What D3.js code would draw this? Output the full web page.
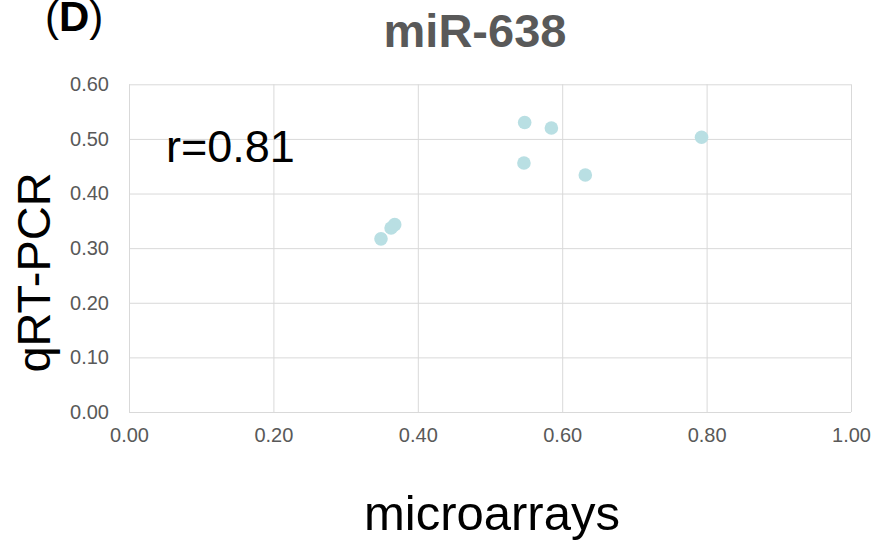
<!DOCTYPE html>
<html lang="en">
<head>
<meta charset="UTF-8">
<title>miR-638</title>
<script src="https://d3js.org/d3.v7.min.js"></script>
<style>
body { margin: 0; background: #fff; }
svg { display: block; font-family: "Liberation Sans", Arial, sans-serif; }
.grid line { stroke: #d9d9d9; stroke-width: 1; }
.grid text { fill: #595959; font-size: 20px; }
.dot { fill: #b9dfe3; }
</style>
</head>
<body>
<div id="container"></div>
<script>
// data
const microarrays = [0.548, 0.585, 0.793, 0.547, 0.632, 0.368, 0.363, 0.349];
const qrtpcr = [0.530, 0.520, 0.503, 0.456, 0.434, 0.343, 0.337, 0.317];
const xTicks = [0, 0.2, 0.4, 0.6, 0.8, 1.0];
const yTicks = [0, 0.1, 0.2, 0.3, 0.4, 0.5, 0.6];

const width = 874, height = 542;
const plotL = 129, plotR = 851, plotT = 84.3, plotB = 412;

const svg = d3.select("#container")
  .append("svg")
  .attr("width", width)
  .attr("height", height);

const x = d3.scaleLinear().domain([0, 1]).range([plotL, plotR]);
const y = d3.scaleLinear().domain([0, 0.6]).range([plotB, plotT]);

// horizontal grid + y labels
const gy = svg.append("g")
  .attr("class", "grid")
  .attr("transform", `translate(${plotL},0)`)
  .call(d3.axisLeft(y).tickValues(yTicks).tickFormat(d3.format(".2f"))
    .tickSize(-(plotR - plotL)).tickPadding(20));
gy.select(".domain").remove();

// vertical grid + x labels
const gx = svg.append("g")
  .attr("class", "grid")
  .attr("transform", `translate(0,${plotB})`)
  .call(d3.axisBottom(x).tickValues(xTicks).tickFormat(d3.format(".2f"))
    .tickSize(-(plotB - plotT)).tickPadding(16));
gx.select(".domain").remove();

// points
svg.selectAll(".dot")
  .data(microarrays.map((d, i) => [d, qrtpcr[i]]))
  .join("circle")
  .attr("class", "dot")
  .attr("cx", d => x(d[0]))
  .attr("cy", d => y(d[1]))
  .attr("r", 6.8);

// texts
svg.append("text")
  .attr("x", 475).attr("y", 46.5)
  .attr("text-anchor", "middle")
  .style("font-size", "47px").style("font-weight", "bold")
  .style("fill", "#595959")
  .text("miR-638");

// panel letter (sits right at the top edge, as in the figure)
const lbl = svg.append("text")
  .attr("x", 45).attr("y", 31)
  .style("font-size", "42px").style("fill", "#000");
lbl.append("tspan").text("(");
lbl.append("tspan").style("font-weight", "bold").text("D");
lbl.append("tspan").text(")");

svg.append("text")
  .attr("x", 166).attr("y", 162)
  .style("font-size", "45px").style("fill", "#000")
  .text("r=0.81");

svg.append("text")
  .attr("transform", "translate(50,272.5) rotate(-90)")
  .attr("text-anchor", "middle")
  .style("font-size", "47px").style("fill", "#000")
  .text("qRT-PCR");

svg.append("text")
  .attr("x", 492).attr("y", 530)
  .attr("text-anchor", "middle")
  .style("font-size", "49px").style("fill", "#000")
  .text("microarrays");
</script>
</body>
</html>
